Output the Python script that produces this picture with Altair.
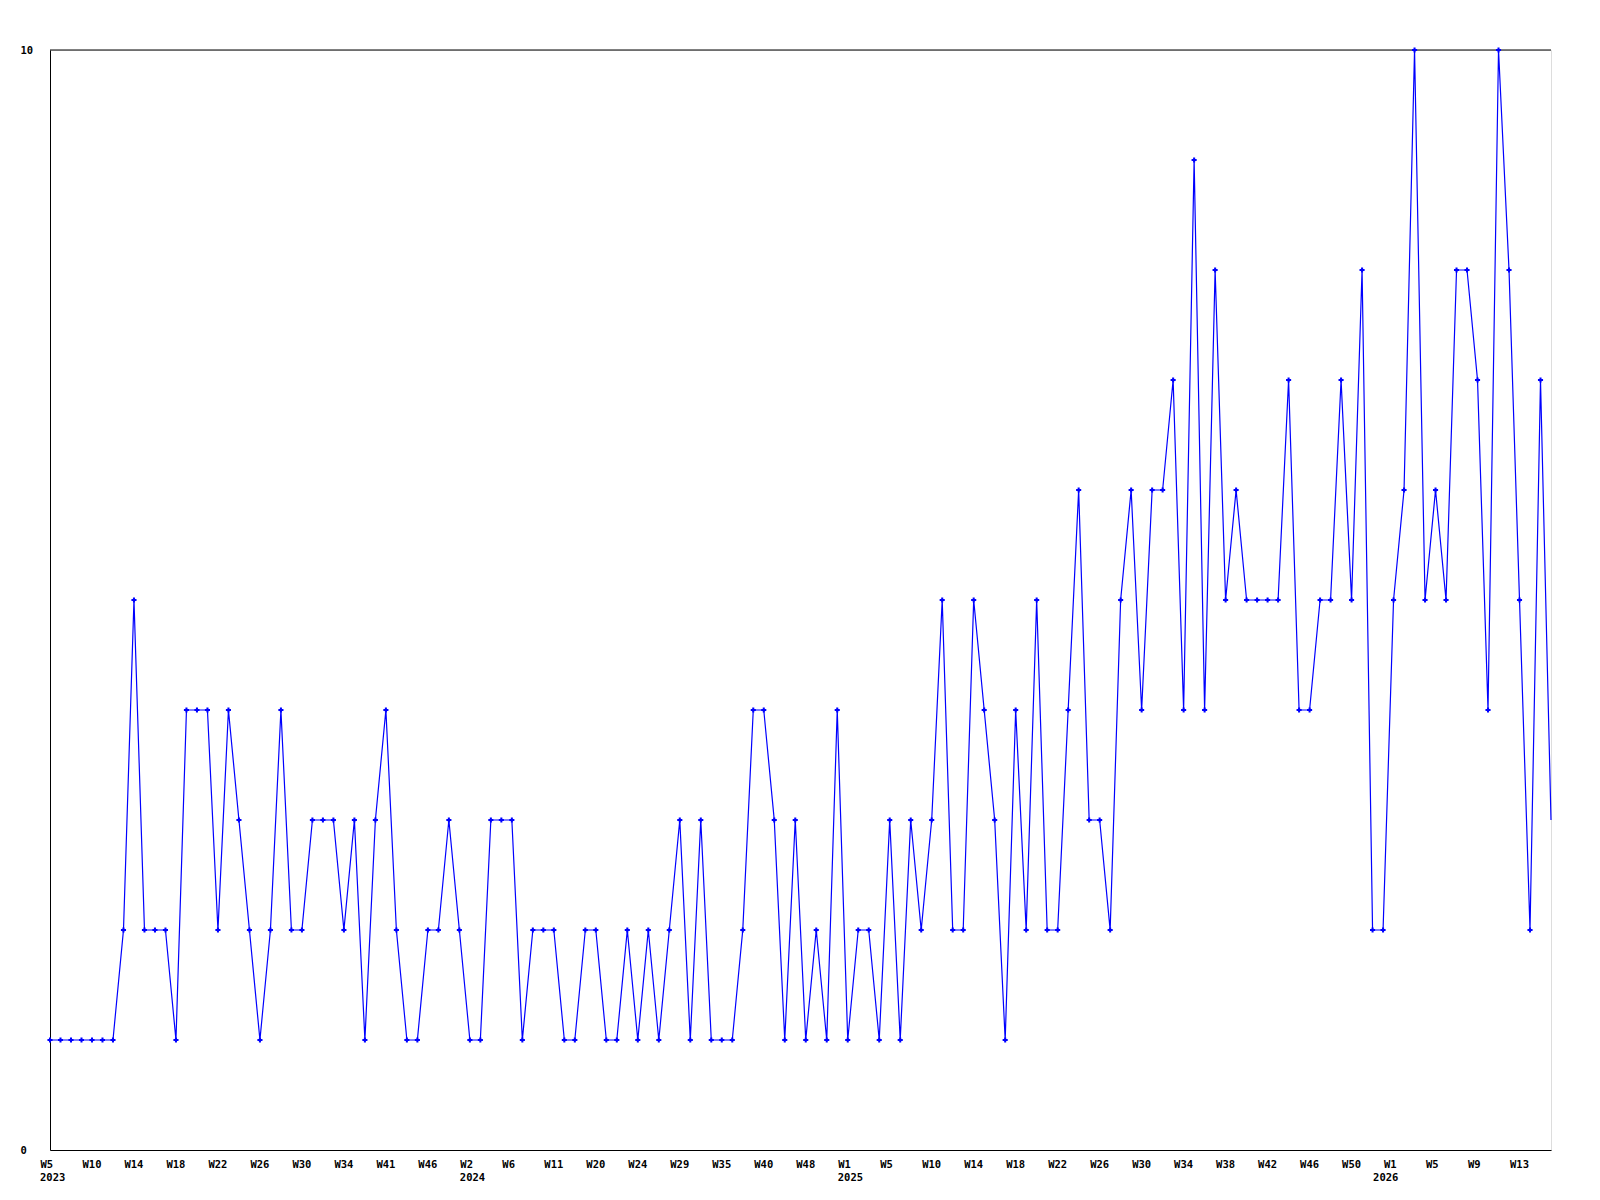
import altair as alt
import pandas as pd

# weekly values, one per point
values = [
    1, 1, 1, 1, 1, 1, 1, 2, 5, 2,
    2, 2, 1, 4, 4, 4, 2, 4, 3, 2,
    1, 2, 4, 2, 2, 3, 3, 3, 2, 3,
    1, 3, 4, 2, 1, 1, 2, 2, 3, 2,
    1, 1, 3, 3, 3, 1, 2, 2, 2, 1,
    1, 2, 2, 1, 1, 2, 1, 2, 1, 2,
    3, 1, 3, 1, 1, 1, 2, 4, 4, 3,
    1, 3, 1, 2, 1, 4, 1, 2, 2, 1,
    3, 1, 3, 2, 3, 5, 2, 2, 5, 4,
    3, 1, 4, 2, 5, 2, 2, 4, 6, 3,
    3, 2, 5, 6, 4, 6, 6, 7, 4, 9,
    4, 8, 5, 6, 5, 5, 5, 5, 7, 4,
    4, 5, 5, 7, 5, 8, 2, 2, 5, 6,
    10, 5, 6, 5, 8, 8, 7, 4, 10, 8,
    5, 2, 7, 3,
]

# tick labels, one every 4 points
week_labels = [
    "W5", "W10", "W14", "W18", "W22", "W26", "W30", "W34", "W41", "W46",
    "W2", "W6", "W11", "W20", "W24", "W29", "W35", "W40", "W48",
    "W1", "W5", "W10", "W14", "W18", "W22", "W26", "W30", "W34", "W38",
    "W42", "W46", "W50",
    "W1", "W5", "W9", "W13",
]
# year labels and the point index where each year starts
years = ["2023", "2024", "2025", "2026"]
year_start = [0, 40, 76, 127]

df = pd.DataFrame({"i": list(range(len(values))), "v": values})
df_years = pd.DataFrame({"i": year_start, "year": years})

n = len(values)
W = "[" + ",".join(f"'{w}'" for w in week_labels) + "]"
label_expr = f"{W}[datum.value/4]"

FONT = "DejaVu Sans Mono"
FS = 10.5

x_enc = alt.X(
    "i:Q",
    scale=alt.Scale(domain=[0, n - 1], nice=False, zero=False),
    axis=alt.Axis(
        title=None,
        values=list(range(0, n, 4)),
        labelExpr=label_expr,
        ticks=False,
        grid=False,
        labelAlign="left",
        labelOffset=-10,
        labelBaseline="top",
        labelPadding=9,
        labelFont=FONT,
        labelFontWeight="bold",
        labelFontSize=FS,
        labelColor="black",
        labelOverlap=False,
        labelFlush=False,
        labelBound=False,
        domainColor="black",
        domainWidth=1,
    ),
)
y_enc = alt.Y(
    "v:Q",
    scale=alt.Scale(domain=[0, 10], nice=False),
    axis=alt.Axis(
        title=None,
        values=[0, 10],
        format="d",
        ticks=False,
        grid=False,
        labelAlign="left",
        labelBaseline="middle",
        labelPadding=30,
        labelFont=FONT,
        labelFontWeight="bold",
        labelFontSize=FS,
        labelColor="black",
        labelFlush=False,
        labelBound=False,
        domainColor="black",
        domainWidth=1,
    ),
)

base = alt.Chart(df)
line = base.mark_line(color="#0000ff", strokeWidth=1.2, interpolate="linear").encode(x=x_enc, y=y_enc)
pts = base.mark_point(shape="cross", filled=True, size=26, color="#0000ff", opacity=1).encode(
    x="i:Q", y="v:Q"
).transform_filter(f"datum.i < {n - 1}")

top = alt.Chart(pd.DataFrame({"t": [10]})).mark_rule(color="black", strokeWidth=1).encode(y="t:Q")

year_text = alt.Chart(df_years).mark_text(
    align="left", baseline="top", dx=-10, font=FONT, fontWeight="bold", fontSize=FS, color="black"
).encode(x="i:Q", y=alt.value(1123), text="year:N")

chart = (
    alt.layer(top, line, pts, year_text)
    .properties(
        width=1501,
        height=1100,
        autosize=alt.AutoSizeParams(type="none"),
        padding={"left": 42, "top": 42, "right": 41, "bottom": 42},
    )
    .configure_view(stroke="transparent", strokeWidth=0)
    .configure(background="white")
)

chart.save("out.html", embed_options={"renderer": "svg", "actions": False})
